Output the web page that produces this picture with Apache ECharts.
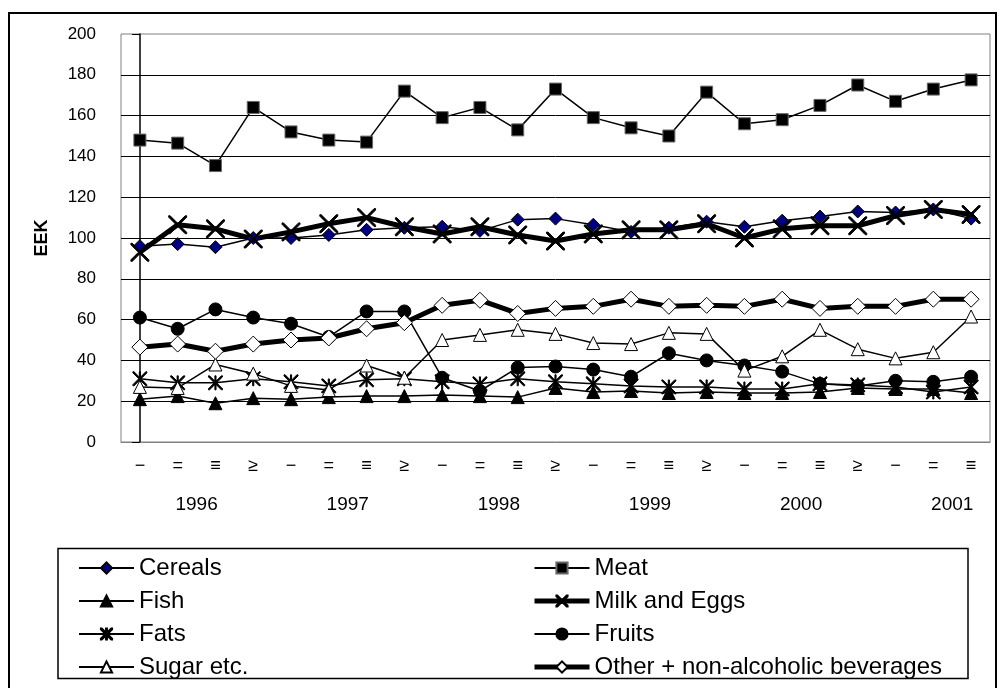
<!DOCTYPE html>
<html>
<head>
<meta charset="utf-8">
<script src="https://cdn.jsdelivr.net/npm/echarts@6/dist/echarts.min.js"></script>
<style>html,body{margin:0;padding:0;background:#fff}#c{width:998px;height:688px}</style>
</head>
<body>
<div id="c"></div>
<script>
const years = ['1996','1997','1998','1999','2000','2001'];
const quarterLabels = ['−','=','≡','≥'];
const yTicks = [0,20,40,60,80,100,120,140,160,180,200];

const cereals = [96, 97, 95.5, 100, 100, 101.5, 104, 105, 105.5, 103.5, 109, 109.5, 106.5, 103, 105, 108, 105.5, 108.5, 110.5, 113, 112.5, 114, 109.5];
const meat    = [148, 146.5, 135.5, 164, 152, 148, 147, 172, 159, 164, 153, 173, 159, 154, 150, 171.5, 156, 158, 165, 175, 167, 173, 177.5];
const fish    = [21, 22.5, 19, 21.5, 21, 22, 22.5, 22.5, 23, 22.5, 22, 26.5, 24.5, 25, 24, 24.5, 24, 24, 24.5, 26.5, 26, 26, 24];
const milk    = [93, 106.5, 104.5, 99.5, 103, 107, 110, 105.5, 102, 105.5, 101.5, 98.5, 102, 104, 104, 107, 100, 104.5, 106, 106, 111, 114, 111.5];
const fats    = [31, 29, 29, 31, 29.5, 27.5, 30.5, 31, 29.5, 28.5, 31, 29.5, 28.5, 27.5, 27, 27, 26, 26, 28.5, 28, 27, 24.5, 27];
const fruits  = [61, 55.5, 65, 61, 58, 51.5, 64, 64, 31.5, 25, 36.5, 37, 35.5, 32, 43.5, 40, 37.5, 34.5, 28.5, 27.5, 30, 29.5, 32];
const sugar   = [27, 26.5, 38, 33.5, 27.5, 25.5, 37.5, 31.5, 50, 52.5, 55, 53, 48.5, 48, 53.5, 53, 35, 42, 55, 45.5, 41, 44, 61.5];
const other   = [46.5, 48, 44.5, 48, 50, 51, 55.5, 58.5, 67, 69.5, 63, 65.5, 66.5, 70, 66.5, 67, 66.5, 70, 65.5, 66.5, 66.5, 70, 70];

const nPoints = cereals.length;
const categories = [];
for (let i = 0; i < nPoints; i++) categories.push(quarterLabels[i % 4]);
const yearPos = years.map((y, k) => k * 4 + 1.5);

const FONT = '"Liberation Sans", Arial, sans-serif';
const X_PATH = 'path://M0,0 L1.6,0 L10,8.4 L18.4,0 L20,0 L20,1.6 L11.6,10 L20,18.4 L20,20 L18.4,20 L10,11.6 L1.6,20 L0,20 L0,18.4 L8.4,10 L0,1.6 Z';
const STAR_PATH = 'path://M0,0 L1.6,0 L10,8.4 L18.4,0 L20,0 L20,1.6 L11.6,10 L20,18.4 L20,20 L18.4,20 L10,11.6 L1.6,20 L0,20 L0,18.4 L8.4,10 L0,1.6 Z M9.2,0 L10.8,0 L10.8,20 L9.2,20 Z';

function mk(name, data, symbol, size, fill, lw, border) {
  return {
    name, type: 'line', data, symbol, symbolSize: size,
    lineStyle: { color: '#000', width: lw },
    itemStyle: { color: fill, borderColor: border || '#000', borderWidth: 1 },
    emphasis: { disabled: true },
    z: 3
  };
}

const legendText = { fontSize: 24, lineHeight: 24, color: '#000', fontFamily: FONT };
const thick = { lineStyle: { width: 5, color: '#000' } };

const chart = echarts.init(document.getElementById('c'), null, { renderer: 'canvas' });
chart.setOption({
  animation: false,
  backgroundColor: '#fff',
  textStyle: { fontFamily: FONT },
  grid: { left: 121, right: 8, top: 34, height: 408, show: true, borderColor: '#808080', borderWidth: 1, backgroundColor: 'transparent' },
  xAxis: [{
    type: 'category', data: categories, boundaryGap: true,
    axisLine: { lineStyle: { color: '#808080', width: 1 } },
    axisTick: { show: false },
    axisLabel: { color: '#000', fontSize: 18, fontFamily: FONT, margin: 15, interval: 0 },
    splitLine: { show: false }
  }, {
    type: 'value', min: -0.5, max: nPoints - 0.5, position: 'bottom',
    axisLine: { show: false }, axisTick: { show: false }, splitLine: { show: false },
    axisLabel: {
      customValues: yearPos, color: '#000', fontSize: 19, fontFamily: FONT, margin: 53,
      formatter: v => years[Math.round((v - 1.5) / 4)]
    }
  }],
  yAxis: {
    type: 'value', min: yTicks[0], max: yTicks[yTicks.length - 1], interval: 20,
    name: 'EEK', nameLocation: 'middle', nameRotate: 90, nameGap: 70,
    nameTextStyle: { fontSize: 18, fontWeight: 'bold', color: '#000', fontFamily: FONT },
    axisLine: { show: true, lineStyle: { color: '#000', width: 1.5 } },
    axisTick: { show: true, inside: false, length: 8, lineStyle: { color: '#000' } },
    axisLabel: { color: '#000', fontSize: 17, fontFamily: FONT, margin: 25 },
    splitLine: { show: true, showMinLine: false, showMaxLine: false, lineStyle: { color: '#000', width: 1 } }
  },
  legend: [{
    orient: 'vertical', left: 78, top: 556, padding: 0, itemWidth: 55, itemHeight: 14, itemGap: 9,
    textStyle: legendText,
    data: ['Cereals', 'Fish', 'Fats', 'Sugar etc.'], selectedMode: false
  }, {
    orient: 'vertical', left: 532, top: 556, padding: 0, itemWidth: 55, itemHeight: 14, itemGap: 9,
    textStyle: legendText,
    data: ['Meat', Object.assign({ name: 'Milk and Eggs' }, thick), 'Fruits', Object.assign({ name: 'Other + non-alcoholic beverages' }, thick)],
    selectedMode: false
  }],
  graphic: [
    { type: 'rect', shape: { x: 9, y: 13, width: 987, height: 700 }, style: { fill: 'none', stroke: '#000', lineWidth: 2 }, silent: true, z: 100 },
    { type: 'rect', shape: { x: 58, y: 548.5, width: 910, height: 130 }, style: { fill: 'none', stroke: '#000', lineWidth: 1.5 }, silent: true, z: 100 }
  ],
  series: [
    mk('Cereals', cereals, 'diamond', 13, '#000080', 1.5),
    mk('Meat', meat, 'rect', 12, '#000', 1.5, '#666'),
    mk('Fish', fish, 'triangle', 13, '#000', 1.5),
    mk('Milk and Eggs', milk, X_PATH, 18, '#000', 5),
    mk('Fats', fats, STAR_PATH, 14, '#000', 1.5),
    mk('Fruits', fruits, 'circle', 13, '#000', 1.5),
    mk('Sugar etc.', sugar, 'triangle', 13, '#fff', 1.5),
    mk('Other + non-alcoholic beverages', other, 'diamond', 16, '#fff', 5)
  ]
});
</script>
</body>
</html>
